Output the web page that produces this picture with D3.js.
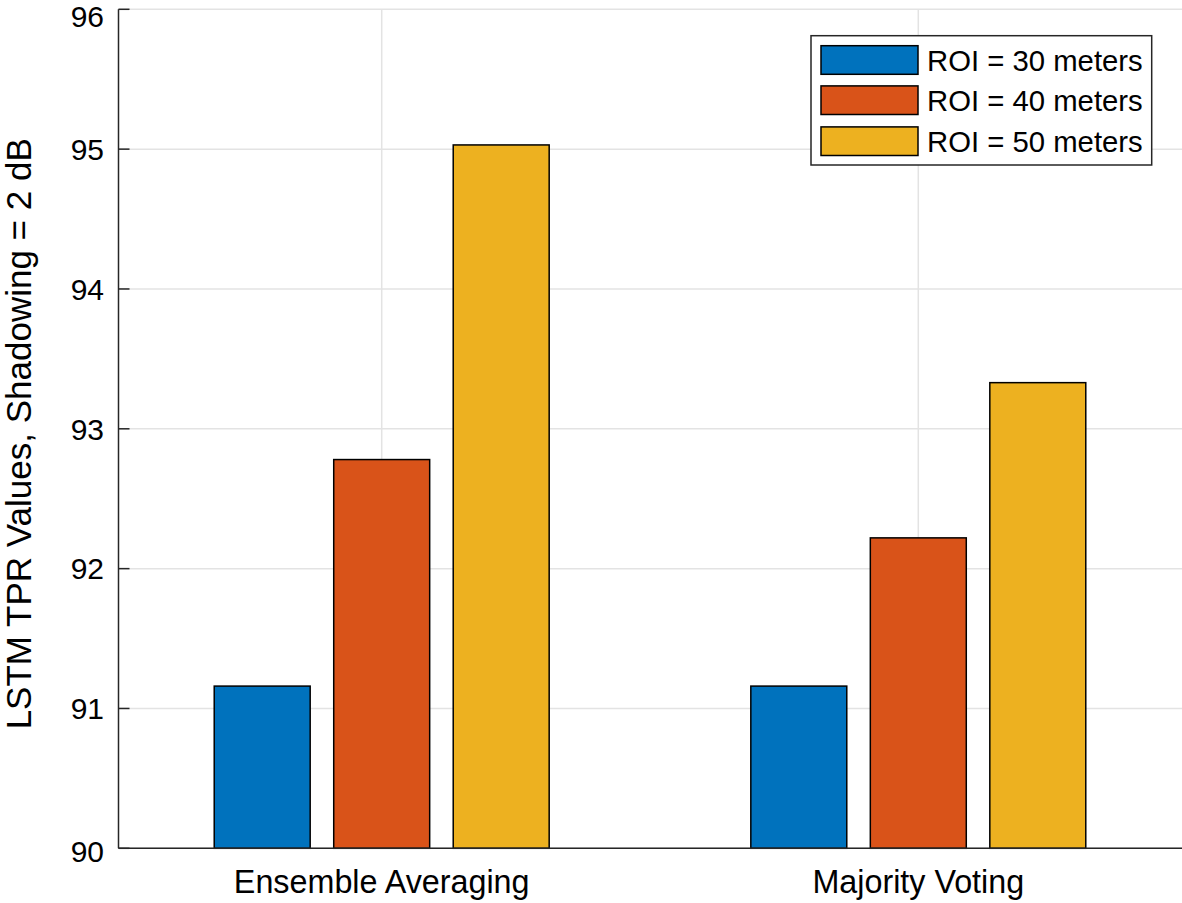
<!DOCTYPE html>
<html>
<head>
<meta charset="utf-8">
<script src="https://cdn.jsdelivr.net/npm/d3@7"></script>
<style>
  html, body { margin: 0; padding: 0; background: #fff; }
  svg { display: block; font-family: "Liberation Sans", Arial, Helvetica, sans-serif; }
</style>
</head>
<body>
<svg id="chart" width="1182" height="903"></svg>
<script>
// ---- data ----
const categories = ["Ensemble Averaging", "Majority Voting"];
const seriesNames = ["ROI = 30 meters", "ROI = 40 meters", "ROI = 50 meters"];
const roi30 = [91.16, 91.16];
const roi40 = [92.78, 92.22];
const roi50 = [95.03, 93.33];
const yTicks = [90, 91, 92, 93, 94, 95, 96];
const yLabel = "LSTM TPR Values, Shadowing = 2 dB";
const colors = ["#0072BD", "#D95319", "#EDB120"];

const seriesValues = [roi30, roi40, roi50];
const data = categories.map((c, i) => ({
  category: c,
  values: seriesNames.map((s, j) => ({ series: s, value: seriesValues[j][i], color: colors[j] }))
}));

// ---- layout ----
const axisLeft = 118.5, axisTop = 9.3, axisBottom = 848.3, plotRight = 1182;
const svg = d3.select("#chart");

const y = d3.scaleLinear().domain([90, 96]).range([axisBottom, axisTop]);
const x0 = d3.scaleBand().domain(categories).range([113.4, 1186.6]).padding(0);
const x1 = d3.scaleBand().domain(seriesNames).range([-179.25, 179.25])
  .paddingInner(0.197).paddingOuter(0.0985);

const gridColor = "#e3e3e3";
const axisColor = "#262626";

// grid lines
svg.append("g").selectAll("line.hgrid").data(yTicks).join("line")
  .attr("x1", axisLeft).attr("x2", plotRight)
  .attr("y1", d => y(d)).attr("y2", d => y(d))
  .attr("stroke", gridColor).attr("stroke-width", 1.5);
svg.append("g").selectAll("line.vgrid").data(categories).join("line")
  .attr("x1", d => x0(d) + x0.bandwidth() / 2).attr("x2", d => x0(d) + x0.bandwidth() / 2)
  .attr("y1", axisTop).attr("y2", axisBottom)
  .attr("stroke", gridColor).attr("stroke-width", 1.5);

// bars
const groups = svg.append("g").selectAll("g.cat").data(data).join("g")
  .attr("transform", d => `translate(${x0(d.category) + x0.bandwidth() / 2},0)`);
groups.selectAll("rect").data(d => d.values).join("rect")
  .attr("x", d => x1(d.series))
  .attr("width", x1.bandwidth())
  .attr("y", d => y(d.value))
  .attr("height", d => y(90) - y(d.value))
  .attr("fill", d => d.color)
  .attr("stroke", "#000").attr("stroke-width", 1.5);

// axes lines
svg.append("line").attr("x1", axisLeft).attr("x2", axisLeft)
  .attr("y1", axisTop).attr("y2", axisBottom)
  .attr("stroke", axisColor).attr("stroke-width", 1.5);
svg.append("line").attr("x1", axisLeft).attr("x2", plotRight)
  .attr("y1", axisBottom).attr("y2", axisBottom)
  .attr("stroke", axisColor).attr("stroke-width", 1.5);

// y ticks (inward)
svg.append("g").selectAll("line").data(yTicks).join("line")
  .attr("x1", axisLeft).attr("x2", axisLeft + 11)
  .attr("y1", d => y(d)).attr("y2", d => y(d))
  .attr("stroke", axisColor).attr("stroke-width", 1.5);
const yExt = y.domain();
svg.append("g").selectAll("text").data(yTicks).join("text")
  .attr("x", 104)
  .attr("y", d => y(d) + (d === yExt[1] ? 17.4 : d === yExt[0] ? 13.8 : 10.7))
  .attr("text-anchor", "end")
  .attr("font-size", 30).attr("fill", "#000")
  .text(d => d);

// x tick labels
svg.append("g").selectAll("text").data(categories).join("text")
  .attr("x", d => x0(d) + x0.bandwidth() / 2).attr("y", 893)
  .attr("text-anchor", "middle")
  .attr("font-size", 32.3).attr("fill", "#000")
  .text(d => d);

// y label
svg.append("text")
  .attr("transform", `translate(31,${(axisTop + axisBottom) / 2 + 5}) rotate(-90)`)
  .attr("text-anchor", "middle")
  .attr("font-size", 35).attr("fill", "#000")
  .text(yLabel);

// legend
const lg = svg.append("g");
lg.append("rect").attr("x", 811).attr("y", 35.7).attr("width", 340.7).attr("height", 129.3)
  .attr("fill", "#fff").attr("stroke", axisColor).attr("stroke-width", 1.5);
const rowY = [60, 100.2, 141.2];
const items = lg.selectAll("g.item").data(seriesNames).join("g")
  .attr("transform", (d, i) => `translate(0,${rowY[i]})`);
items.append("rect").attr("x", 821).attr("y", -14.3).attr("width", 97).attr("height", 28.6)
  .attr("fill", (d, i) => colors[i]).attr("stroke", "#000").attr("stroke-width", 1.5);
items.append("text").attr("x", 927).attr("y", 10.5)
  .attr("font-size", 29.3).attr("fill", "#000")
  .text(d => d);
</script>
</body>
</html>
